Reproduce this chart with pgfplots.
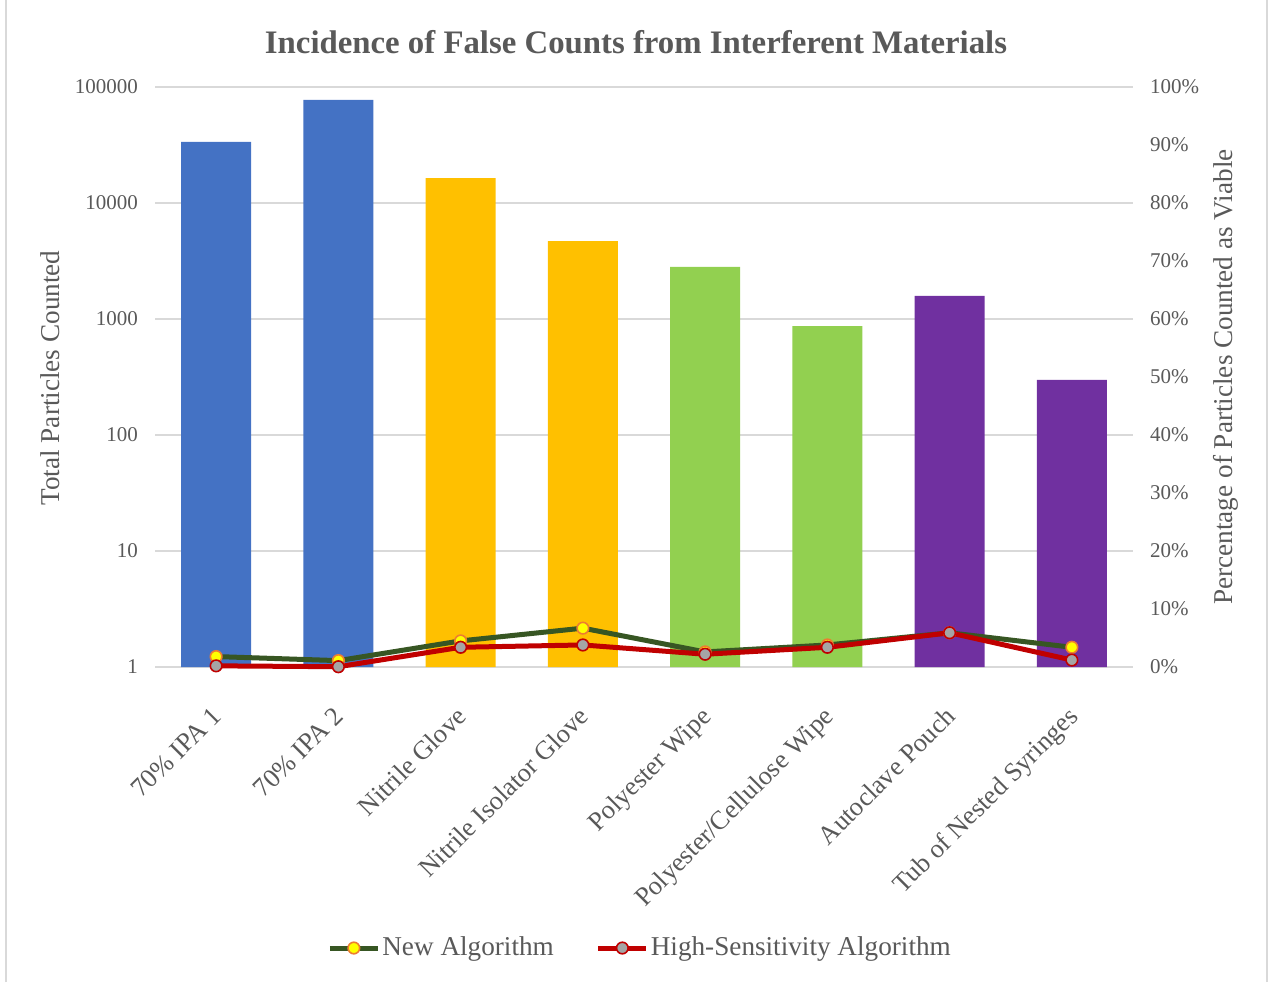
\documentclass[border=0pt]{standalone}
\usepackage{fontspec}
\setmainfont{Liberation Serif}
\usepackage{pgfplots}
\pgfplotsset{compat=1.18}
\definecolor{cblue}{HTML}{4472C4}
\definecolor{cyellow}{HTML}{FFC000}
\definecolor{cgreen}{HTML}{92D050}
\definecolor{cpurple}{HTML}{7030A0}
\definecolor{lgreen}{HTML}{375623}
\definecolor{lred}{HTML}{C00000}
\definecolor{mkyellow}{HTML}{FFFF00}
\definecolor{mkorange}{HTML}{ED7D31}
\definecolor{mkgray}{HTML}{A5A5A5}
\definecolor{txt}{HTML}{595959}
\definecolor{gridc}{HTML}{D9D9D9}
\begin{document}
\begin{tikzpicture}[x=1pt,y=1pt]
\path[use as bounding box] (0,0) rectangle (634.5,491);
\draw[gridc, line width=1.2pt] (3,0) -- (3,491);
\draw[gridc, line width=1.2pt] (633.5,0) -- (633.5,491);
\begin{axis}[
  at={(77.5pt,157.5pt)}, anchor=south west, scale only axis,
  width=489pt, height=290pt,
  xmin=-0.5, xmax=7.5, ymode=log, ymin=1, ymax=100000,
  log origin=infty,
  ytick={1,10,100,1000,10000,100000},
  yticklabels={1,10,100,1000,10000,100000},
  xtick={0,...,7},
  xticklabels={70\% IPA 1, 70\% IPA 2, Nitrile Glove, Nitrile Isolator Glove, Polyester Wipe, Polyester/Cellulose Wipe, Autoclave Pouch, Tub of Nested Syringes},
  axis x line*=bottom, axis y line*=left,
  x axis line style={gridc, line width=1pt},
  y axis line style={draw=none},
  ymajorgrids, major grid style={gridc, line width=0.8pt},
  major tick length=0pt, minor tick num=0,
  yminorticks=false,
  yticklabel style={font=\fontsize{10.5}{12}\selectfont, text=txt, xshift=-5pt},
  xticklabel style={font=\fontsize{13.2}{15}\selectfont, text=txt, rotate=45, anchor=north east, xshift=-12pt, yshift=-8pt},
]
\addplot[ybar, bar shift=0pt, bar width=35pt, fill=cblue, draw=none] coordinates {(0,33600) (1,77300)};
\addplot[ybar, bar shift=0pt, bar width=35pt, fill=cyellow, draw=none] coordinates {(2,16400) (3,4700)};
\addplot[ybar, bar shift=0pt, bar width=35pt, fill=cgreen, draw=none] coordinates {(4,2810) (5,870)};
\addplot[ybar, bar shift=0pt, bar width=35pt, fill=cpurple, draw=none] coordinates {(6,1580) (7,298)};
\end{axis}
\begin{axis}[
  at={(77.5pt,157.5pt)}, anchor=south west, scale only axis,
  width=489pt, height=290pt,
  xmin=-0.5, xmax=7.5, ymin=0, ymax=100,
  axis x line=none, axis y line*=right,
  y axis line style={draw=none},
  ytick={0,10,...,100},
  yticklabels={0\%,10\%,20\%,30\%,40\%,50\%,60\%,70\%,80\%,90\%,100\%},
  major tick length=0pt,
  yticklabel style={font=\fontsize{10.5}{12}\selectfont, text=txt, xshift=5pt},
  clip=false,
  legend style={at={(0.496,-0.4845)}, anchor=center, draw=none, fill=none,
    legend columns=2, font=\fontsize{13.6}{15}\selectfont, text=txt,
    /tikz/every even column/.append style={column sep=20pt},
    inner sep=0pt, nodes={inner sep=1pt}},
  legend image code/.code={\draw[mark repeat=2,mark phase=2] plot coordinates {(0pt,0pt) (12pt,0pt) (24pt,0pt)};},
]
\addplot[lgreen, line width=2.5pt, mark=*, mark size=2.9pt,
  mark options={fill=mkyellow, draw=mkorange, line width=0.8pt}]
  coordinates {(0,1.8) (1,1.1) (2,4.5) (3,6.7) (4,2.6) (5,3.8) (6,5.9) (7,3.4)};
\addlegendentry{New Algorithm}
\addplot[lred, line width=2.5pt, mark=*, mark size=2.9pt,
  mark options={fill=mkgray, draw=lred, line width=0.8pt}]
  coordinates {(0,0.2) (1,0.05) (2,3.4) (3,3.8) (4,2.2) (5,3.4) (6,5.9) (7,1.2)};
\addlegendentry{High-Sensitivity Algorithm}
\end{axis}
\node[text=txt, font=\bfseries\fontsize{16.4}{19}\selectfont] at (318,470) {Incidence of False Counts from Interferent Materials};
\node[text=txt, font=\fontsize{13.6}{15}\selectfont, rotate=90] at (25,302) {Total Particles Counted};
\node[text=txt, font=\fontsize{13.6}{15}\selectfont, rotate=90] at (613,302.5) {Percentage of Particles Counted as Viable};
\end{tikzpicture}
\end{document}
